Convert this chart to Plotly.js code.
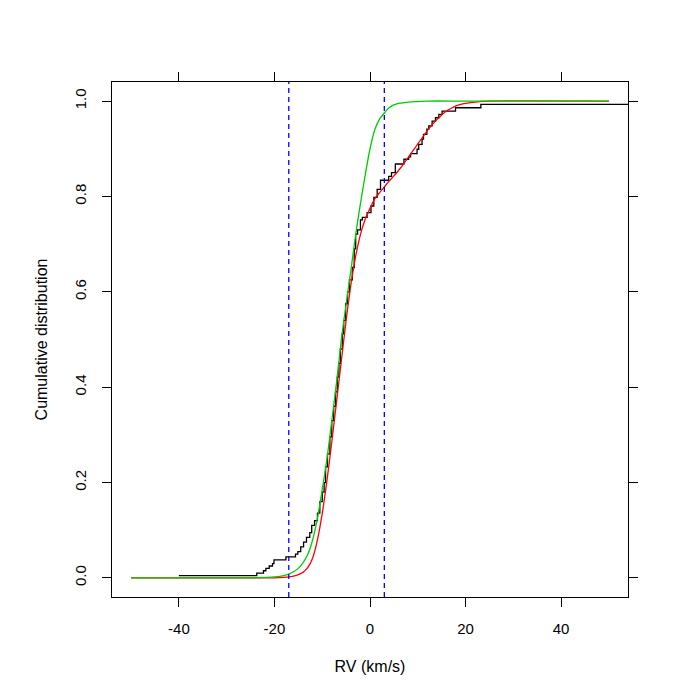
<!DOCTYPE html>
<html>
<head>
<meta charset="utf-8">
<script src="https://cdn.plot.ly/plotly-3.0.1.min.js"></script>
<style>
	body { margin: 0; background: #fff; }
	#plot { width: 700px; height: 700px; }
</style>
</head>
<body>
<div id="plot"></div>
<script>
const ecdfX = [-40, -23.7, -22.3, -21.8, -21.1, -20.4, -20.1, -17.6, -15.6, -15.1, -14.5, -13.9, -13.3, -12.6, -12.2,
	-11.6, -11.0, -10.5, -10.0, -9.6, -9.3, -8.9, -8.4, -8.0, -7.6, -7.2, -6.85, -6.5, -6.2, -5.8, -5.5, -5.1,
	-4.7, -4.3, -3.7, -3.3, -3.0, -2.6, -2.0, -1.6, -0.6, 0.2, 0.8, 1.5, 2.2, 3.9, 4.5, 5.3, 7.1, 8.1, 8.5,
	9.85, 10.2, 10.9, 11.2, 11.9, 12.3, 13.0, 13.7, 14.4, 15.1, 17.9, 23.2, 60]
const ecdfY = [0.005, 0.010, 0.015, 0.020, 0.025, 0.030, 0.038, 0.044, 0.050, 0.055, 0.065, 0.075, 0.085, 0.095, 0.110,
	0.120, 0.136, 0.160, 0.180, 0.200, 0.233, 0.260, 0.296, 0.330, 0.360, 0.390, 0.421, 0.450, 0.480, 0.512, 0.540, 0.575,
	0.600, 0.625, 0.651, 0.690, 0.721, 0.730, 0.751, 0.756, 0.766, 0.780, 0.798, 0.815, 0.834, 0.842, 0.850, 0.868, 0.878, 0.883, 0.890,
	0.899, 0.909, 0.920, 0.930, 0.941, 0.948, 0.958, 0.965, 0.972, 0.979, 0.986, 0.993, 0.993]

// red model CDF
const redX = [-50, -20, -18, -17, -16, -15, -14, -13, -12, -11, -10, -9, -8, -7, -6, -5, -4, -3, -2, -1, 0, 1, 2, 3, 4, 5,
	6, 7, 8, 9, 10, 11, 12, 13, 14, 15, 16, 17, 18, 19, 20, 22, 25, 50]
const redY = [0, 0, 0.001, 0.002, 0.004, 0.007, 0.012, 0.022, 0.042, 0.08, 0.135, 0.205, 0.285, 0.37, 0.455, 0.54, 0.615,
	0.675, 0.72, 0.752, 0.775, 0.795, 0.808, 0.82, 0.832, 0.843, 0.855, 0.868, 0.882, 0.896, 0.91, 0.924, 0.938, 0.95,
	0.961, 0.971, 0.979, 0.985, 0.99, 0.993, 0.995, 0.998, 1, 1]

// green model CDF
const greenX = [-50, -25, -22, -20, -18, -17, -16, -15, -14, -13, -12, -11, -10, -9, -8, -7, -6, -5, -4, -3, -2, -1, 0, 1,
	2, 3, 4, 5, 6, 8, 10, 12, 20, 50]
const greenY = [0, 0, 0.001, 0.002, 0.005, 0.008, 0.013, 0.02, 0.032, 0.05, 0.08, 0.125, 0.185, 0.25, 0.33, 0.41, 0.5, 0.575,
	0.645, 0.72, 0.785, 0.845, 0.9, 0.94, 0.962, 0.975, 0.986, 0.992, 0.995, 0.998, 0.999, 1, 1, 1]

// dashed reference lines
const vlines = [-17, 3]

const xTicks = [-40, -20, 0, 20, 40]
const xTickText = ["-40", "-20", "0", "20", "40"]
const yTicks = [0, 0.2, 0.4, 0.6, 0.8, 1]
const yTickText = ["0.0", "0.2", "0.4", "0.6", "0.8", "1.0"]


const FONT = 'Liberation Sans, Arial, sans-serif'

const traces = [
	{ x: ecdfX, y: ecdfY, type: 'scatter', mode: 'lines', line: { color: 'black', width: 1.3, shape: 'hv' } },
	{ x: redX, y: redY, type: 'scatter', mode: 'lines', line: { color: '#ff0000', width: 1.3, shape: 'spline', smoothing: 0.6 } },
	{ x: greenX, y: greenY, type: 'scatter', mode: 'lines', line: { color: '#00cd00', width: 1.3, shape: 'spline', smoothing: 0.6 } }
]

const shapes = vlines.map(v => ({
	type: 'line', xref: 'x', yref: 'paper', x0: v, x1: v, y0: 0, y1: 1,
	line: { color: '#0000ff', width: 1.3, dash: '5px,4px' }
}))

const axisBase = {
	showgrid: false,
	zeroline: false,
	showline: true,
	linecolor: 'black',
	linewidth: 1,
	mirror: 'ticks',
	ticks: 'outside',
	ticklen: 9,
	tickwidth: 1,
	tickcolor: 'black',
	tickfont: { family: FONT, size: 15, color: 'black' },
	fixedrange: true
}

const layout = {
	width: 700,
	height: 700,
	showlegend: false,
	paper_bgcolor: 'white',
	plot_bgcolor: 'white',
	margin: { l: 112, r: 72, t: 82, b: 103 },
	shapes: shapes,
	xaxis: Object.assign({}, axisBase, {
		range: [-54, 54],
		tickvals: xTicks,
		ticktext: xTickText,
		ticklabelstandoff: 9,
		title: { text: 'RV (km/s)', font: { family: FONT, size: 16, color: 'black' }, standoff: 24 }
	}),
	yaxis: Object.assign({}, axisBase, {
		range: [-0.04, 1.04],
		tickvals: yTicks,
		ticktext: yTickText,
		tickangle: -90,
		ticklabelstandoff: 10,
		title: { text: 'Cumulative distribution', font: { family: FONT, size: 16, color: 'black' }, standoff: 20 }
	})
}

Plotly.newPlot('plot', traces, layout, { displayModeBar: false, staticPlot: true })
</script>
</body>
</html>
